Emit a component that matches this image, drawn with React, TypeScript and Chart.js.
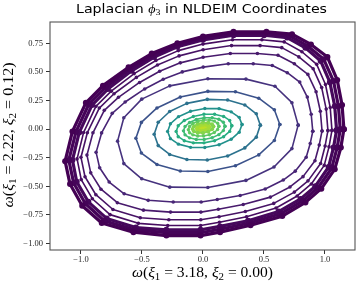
import React, { useEffect, useRef } from "react";
import { Chart, registerables } from "chart.js";
Chart.register(...registerables);

type P = [number, number];

// ---- ring data (outer band -> centre) ----
const RING_B1: P[] = [[1.155,0.0],[1.14,0.21],[1.1,0.43],[1.02,0.63],[0.885,0.74],[0.73,0.83],[0.52,0.85],[0.25,0.85],[0.0,0.81],[-0.21,0.75],[-0.42,0.66],[-0.61,0.54],[-0.82,0.38],[-0.96,0.23],[-1.07,-0.02],[-1.13,-0.28],[-1.09,-0.48],[-0.99,-0.67],[-0.83,-0.82],[-0.57,-0.9],[-0.3,-0.93],[-0.02,-0.93],[0.14,-0.9],[0.39,-0.84],[0.65,-0.76],[0.84,-0.64],[0.97,-0.52],[1.08,-0.35],[1.13,-0.16]];
const RING_B2: P[] = [[1.125,0.0],[1.11,0.2],[1.07,0.42],[0.99,0.61],[0.86,0.725],[0.71,0.815],[0.51,0.835],[0.25,0.835],[0.0,0.795],[-0.21,0.735],[-0.41,0.645],[-0.6,0.525],[-0.8,0.365],[-0.935,0.22],[-1.04,-0.02],[-1.1,-0.27],[-1.06,-0.47],[-0.965,-0.65],[-0.81,-0.8],[-0.56,-0.88],[-0.3,-0.905],[-0.02,-0.905],[0.14,-0.875],[0.38,-0.82],[0.635,-0.74],[0.82,-0.625],[0.945,-0.51],[1.055,-0.34],[1.1,-0.16]];
const RING_B3: P[] = [[1.095,-0.01],[1.08,0.2],[1.04,0.41],[0.965,0.595],[0.84,0.71],[0.69,0.8],[0.5,0.82],[0.25,0.82],[0.0,0.78],[-0.21,0.72],[-0.4,0.63],[-0.585,0.51],[-0.78,0.35],[-0.91,0.21],[-1.015,-0.03],[-1.07,-0.27],[-1.035,-0.46],[-0.94,-0.635],[-0.79,-0.78],[-0.55,-0.86],[-0.3,-0.88],[-0.02,-0.88],[0.14,-0.85],[0.37,-0.8],[0.62,-0.72],[0.8,-0.61],[0.92,-0.5],[1.03,-0.33],[1.07,-0.16]];
const RING_T1: P[] = [[1.057,-0.011],[1.043,0.189],[1.004,0.39],[0.932,0.566],[0.811,0.676],[0.666,0.762],[0.483,0.781],[0.242,0.781],[0.0,0.743],[-0.202,0.686],[-0.386,0.6],[-0.564,0.485],[-0.752,0.332],[-0.878,0.199],[-0.979,-0.03],[-1.032,-0.26],[-0.998,-0.441],[-0.907,-0.608],[-0.762,-0.747],[-0.53,-0.823],[-0.289,-0.842],[-0.019,-0.842],[0.135,-0.814],[0.357,-0.766],[0.599,-0.689],[0.772,-0.584],[0.888,-0.479],[0.994,-0.317],[1.033,-0.155]];
const RING_T2: P[] = [[1.024,-0.013],[1.01,0.175],[0.973,0.363],[0.903,0.528],[0.786,0.631],[0.646,0.712],[0.468,0.73],[0.234,0.73],[0.001,0.694],[-0.196,0.64],[-0.373,0.56],[-0.546,0.452],[-0.729,0.309],[-0.85,0.184],[-0.948,-0.031],[-1.0,-0.246],[-0.967,-0.416],[-0.878,-0.573],[-0.738,-0.702],[-0.514,-0.774],[-0.28,-0.792],[-0.018,-0.792],[0.132,-0.765],[0.347,-0.72],[0.58,-0.649],[0.749,-0.55],[0.861,-0.452],[0.964,-0.3],[1.001,-0.147]];
const RING_T3: P[] = [[0.976,-0.016],[0.962,0.156],[0.927,0.327],[0.86,0.478],[0.749,0.571],[0.615,0.645],[0.446,0.661],[0.224,0.661],[0.001,0.628],[-0.186,0.579],[-0.355,0.506],[-0.52,0.408],[-0.693,0.278],[-0.809,0.164],[-0.902,-0.032],[-0.951,-0.227],[-0.92,-0.382],[-0.836,-0.525],[-0.702,-0.643],[-0.488,-0.708],[-0.266,-0.725],[-0.017,-0.725],[0.126,-0.7],[0.33,-0.659],[0.553,-0.594],[0.713,-0.505],[0.82,-0.415],[0.918,-0.276],[0.953,-0.138]];
const RING_T4: P[] = [[0.9,-0.019],[0.887,0.13],[0.855,0.28],[0.793,0.411],[0.691,0.493],[0.568,0.556],[0.412,0.571],[0.207,0.571],[0.002,0.542],[-0.17,0.5],[-0.326,0.436],[-0.478,0.351],[-0.638,0.237],[-0.744,0.138],[-0.831,-0.033],[-0.876,-0.203],[-0.847,-0.338],[-0.769,-0.462],[-0.646,-0.565],[-0.449,-0.622],[-0.244,-0.636],[-0.015,-0.636],[0.117,-0.615],[0.305,-0.58],[0.51,-0.523],[0.658,-0.445],[0.756,-0.367],[0.846,-0.246],[0.879,-0.125]];
const RING_T5: P[] = [[0.78,0.035],[0.729,0.231],[0.59,0.375],[0.352,0.437],[0.04,0.44],[-0.272,0.378],[-0.502,0.262],[-0.649,0.1],[-0.7,-0.105],[-0.649,-0.301],[-0.502,-0.434],[-0.272,-0.507],[0.04,-0.51],[0.352,-0.448],[0.582,-0.331],[0.729,-0.17]];
const RING_T6: P[] = [[0.63,0.04],[0.585,0.169],[0.457,0.27],[0.266,0.326],[0.04,0.33],[-0.186,0.28],[-0.377,0.185],[-0.505,0.059],[-0.55,-0.08],[-0.505,-0.209],[-0.377,-0.309],[-0.186,-0.366],[0.04,-0.37],[0.266,-0.32],[0.457,-0.225],[0.585,-0.099]];
const RING_T7: P[] = [[0.47,0.035],[0.437,0.134],[0.343,0.211],[0.202,0.255],[0.035,0.26],[-0.132,0.225],[-0.273,0.154],[-0.367,0.06],[-0.4,-0.045],[-0.367,-0.144],[-0.273,-0.221],[-0.132,-0.265],[0.035,-0.27],[0.202,-0.235],[0.343,-0.164],[0.437,-0.07]];
const RING_G1: P[] = [[0.32,0.04],[0.297,0.103],[0.231,0.151],[0.132,0.179],[0.015,0.18],[-0.102,0.156],[-0.201,0.109],[-0.267,0.047],[-0.29,-0.02],[-0.267,-0.083],[-0.201,-0.131],[-0.102,-0.159],[0.015,-0.16],[0.132,-0.136],[0.231,-0.089],[0.297,-0.027]];
const RING_G2: P[] = [[0.236,0.03],[0.219,0.076],[0.169,0.111],[0.095,0.13],[0.008,0.13],[-0.079,0.111],[-0.153,0.076],[-0.203,0.03],[-0.22,-0.02],[-0.203,-0.066],[-0.153,-0.101],[-0.079,-0.12],[0.008,-0.12],[0.095,-0.101],[0.169,-0.066],[0.219,-0.02]];
const RING_G3: P[] = [[0.18,0.025],[0.167,0.06],[0.13,0.086],[0.075,0.1],[0.01,0.1],[-0.055,0.085],[-0.11,0.058],[-0.147,0.023],[-0.16,-0.015],[-0.147,-0.05],[-0.11,-0.076],[-0.055,-0.09],[0.01,-0.09],[0.075,-0.075],[0.13,-0.048],[0.167,-0.013]];
const RING_G4: P[] = [[0.13,0.025],[0.12,0.051],[0.093,0.07],[0.053,0.08],[0.005,0.08],[-0.043,0.069],[-0.083,0.049],[-0.11,0.023],[-0.12,-0.005],[-0.11,-0.031],[-0.083,-0.05],[-0.043,-0.06],[0.005,-0.06],[0.053,-0.049],[0.093,-0.029],[0.12,-0.003]];
const RING_C1: P[] = [[0.085,0.022],[0.074,0.043],[0.043,0.056],[0.0,0.057],[-0.043,0.046],[-0.074,0.026],[-0.085,0.002],[-0.074,-0.019],[-0.043,-0.032],[0.0,-0.033],[0.043,-0.022],[0.074,-0.002]];
const RING_C2: P[] = [[0.05,0.018],[0.043,0.031],[0.025,0.038],[0.0,0.039],[-0.025,0.032],[-0.043,0.02],[-0.05,0.006],[-0.043,-0.007],[-0.025,-0.014],[0.0,-0.015],[0.025,-0.008],[0.043,0.004]];
const RING_C3: P[] = [[0.025,0.015],[0.0125,0.024],[-0.0125,0.021],[-0.025,0.009],[-0.0125,0.0],[0.0125,0.003]];

const RINGS: P[][] = [RING_B1, RING_B2, RING_B3, RING_T1, RING_T2, RING_T3, RING_T4, RING_T5, RING_T6, RING_T7, RING_G1, RING_G2, RING_G3, RING_G4, RING_C1, RING_C2, RING_C3];

const X_TICKS = [-1.0, -0.5, 0.0, 0.5, 1.0];
const Y_TICKS = [-1.0, -0.75, -0.5, -0.25, 0.0, 0.25, 0.5, 0.75];
const X_RANGE = [-1.254, 1.246];
const Y_RANGE = [-1.056, 0.936];

const TITLE_PARTS = ["Laplacian ", "\u03D5", "3", " in NLDEIM Coordinates"];
const X_LABEL = { a: "3.18", b: "0.00" };
const Y_LABEL = { a: "2.22", b: "0.12" };

// ---- styles ----
const COLORS = ["#440154", "#450458", "#46085c", "#470d60", "#471365", "#481a6c", "#482576", "#46327e", "#3b528b", "#2c728e", "#21918c", "#27ad81", "#3fbc73", "#5ec962", "#84d44b", "#a5db36", "#bddf26"];
const RADII = [3.0, 3.0, 3.0, 1.8, 1.8, 1.8, 1.8, 1.8, 1.8, 1.8, 1.7, 1.7, 1.7, 1.7, 2.0, 2.0, 2.0];
const WIDTHS = [3.2, 3.2, 3.2, 1.6, 1.6, 1.6, 1.6, 1.6, 1.6, 1.6, 1.6, 1.6, 1.6, 1.6, 1.8, 1.8, 1.8];

const SERIF = '"Liberation Serif", "DejaVu Serif", serif';
const SANS = '"DejaVu Sans", sans-serif';

type Seg = { t: string; it?: boolean; sub?: boolean; sans?: boolean };

function segFont(s: Seg, size: number) {
  const sz = s.sub ? size * 0.7 : size;
  return `${s.it ? "italic " : ""}${sz}px ${s.sans ? SANS : SERIF}`;
}

function drawSegs(ctx: CanvasRenderingContext2D, segs: Seg[], size: number, x: number, y: number, target: number, rot: number) {
  ctx.save();
  ctx.textBaseline = "alphabetic";
  ctx.textAlign = "left";
  ctx.fillStyle = "#000";
  const widths = segs.map((s) => {
    ctx.font = segFont(s, size);
    return ctx.measureText(s.t).width;
  });
  const total = widths.reduce((p, w) => p + w, 0);
  const k = Math.min(1.3, Math.max(0.8, target / total));
  ctx.translate(x, y);
  ctx.rotate(rot);
  ctx.scale(k, 1);
  let cx = -total / 2;
  segs.forEach((s, i) => {
    ctx.font = segFont(s, size);
    ctx.fillText(s.t, cx, s.sub ? size * 0.22 : 0);
    cx += widths[i];
  });
  ctx.restore();
}

function labelSegs(l: { a: string; b: string }): Seg[] {
  return [
    { t: "\u03C9", it: true },
    { t: "(" },
    { t: "\u03BE", it: true },
    { t: "1", sub: true },
    { t: " = " + l.a + ", " },
    { t: "\u03BE", it: true },
    { t: "2", sub: true },
    { t: " = " + l.b + ")" },
  ];
}

const fmt = (v: number, d: number) => (v < -1e-9 ? "\u2212" : "") + Math.abs(v).toFixed(d);

export default function App() {
  const ref = useRef<HTMLCanvasElement | null>(null);
  useEffect(() => {
    if (!ref.current) return;
    const decor = {
      id: "decor",
      afterDraw(chart: any) {
        const { ctx, chartArea: a } = chart;
        ctx.save();
        ctx.strokeStyle = "#555";
        ctx.lineWidth = 1.1;
        ctx.strokeRect(a.left, a.top, a.right - a.left, a.bottom - a.top);
        ctx.restore();
        drawSegs(ctx, [
          { t: TITLE_PARTS[0], sans: true },
          { t: TITLE_PARTS[1], it: true },
          { t: TITLE_PARTS[2], sub: true },
          { t: TITLE_PARTS[3], sans: true },
        ], 12.5, 201.5, 12.7, 251, 0);
        drawSegs(ctx, labelSegs(X_LABEL), 15, 202.5, 277, 141, 0);
        drawSegs(ctx, labelSegs(Y_LABEL), 15, 13, 135, 145, -Math.PI / 2);
      },
    };
    const datasets = RINGS.map((r, i) => ({
      data: r.concat([r[0]]).map(([x, y]) => ({ x, y })),
      showLine: true,
      borderColor: COLORS[i],
      backgroundColor: COLORS[i],
      pointBackgroundColor: COLORS[i],
      pointBorderWidth: 0,
      pointRadius: RADII[i],
      borderWidth: WIDTHS[i],
      borderJoinStyle: "round",
      tension: 0,
    }));
    const tickFont = { family: SERIF, size: 8.5 };
    const chart = new Chart(ref.current, {
      type: "scatter",
      data: { datasets },
      options: {
        animation: false,
        responsive: false,
        devicePixelRatio: 1,
        layout: { padding: { top: 22, right: 4, left: 0, bottom: 0 } },
        plugins: { legend: { display: false }, tooltip: { enabled: false }, title: { display: false } },
        scales: {
          x: {
            type: "linear",
            min: X_RANGE[0],
            max: X_RANGE[1],
            afterBuildTicks: (s: any) => { s.ticks = X_TICKS.map((v) => ({ value: v })); },
            afterFit: (s: any) => { s.height = 32; },
            ticks: { callback: (v: any) => fmt(Number(v), 1), font: tickFont, color: "#262626", padding: 1, maxRotation: 0, autoSkip: false },
            grid: { drawOnChartArea: false, drawTicks: true, tickLength: 4, tickColor: "#333", tickWidth: 1 },
            border: { display: false },
          },
          y: {
            type: "linear",
            min: Y_RANGE[0],
            max: Y_RANGE[1],
            afterBuildTicks: (s: any) => { s.ticks = Y_TICKS.map((v) => ({ value: v })); },
            afterFit: (s: any) => { s.width = 50; },
            ticks: { callback: (v: any) => fmt(Number(v), 2), font: tickFont, color: "#262626", padding: 3, autoSkip: false },
            grid: { drawOnChartArea: false, drawTicks: true, tickLength: 4, tickColor: "#333", tickWidth: 1 },
            border: { display: false },
          },
        },
      } as any,
      plugins: [decor],
    });
    return () => chart.destroy();
  }, []);
  return (
    <div style={{ position: "absolute", left: 0, top: 0, width: 359, height: 282 }}>
      <canvas ref={ref} width={359} height={282} />
    </div>
  );
}
